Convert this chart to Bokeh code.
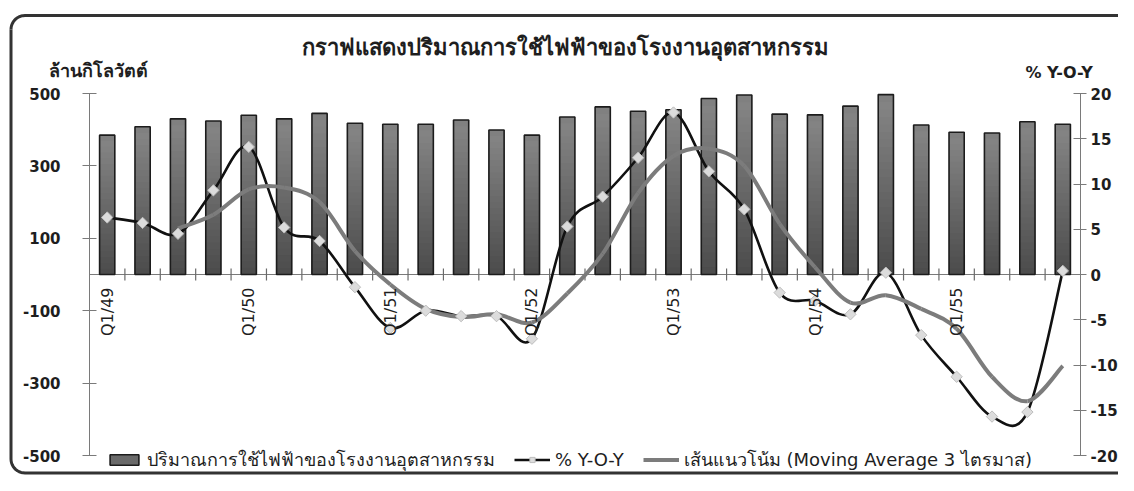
import numpy as np
from bokeh.plotting import figure
from bokeh.models import (Range1d, LinearAxis, FixedTicker, Label, Legend, LegendItem,
                          ColumnDataSource)
from bokeh.core.properties import value
from bokeh.embed import file_html
from bokeh.resources import INLINE

# ---------------- data ----------------
quarters = ["Q1/49", "Q2/49", "Q3/49", "Q4/49",
            "Q1/50", "Q2/50", "Q3/50", "Q4/50",
            "Q1/51", "Q2/51", "Q3/51", "Q4/51",
            "Q1/52", "Q2/52", "Q3/52", "Q4/52",
            "Q1/53", "Q2/53", "Q3/53", "Q4/53",
            "Q1/54", "Q2/54", "Q3/54", "Q4/54",
            "Q1/55", "Q2/55", "Q3/55", "Q4/55"]
power = [385, 408, 430, 424, 440, 430, 445, 418, 415, 415, 427, 399, 385, 435,
         463, 451, 455, 486, 496, 443, 441, 465, 497, 413, 393, 391, 422, 415]
yoy = [6.3, 5.7, 4.5, 9.3, 14.1, 5.2, 3.7, -1.4, -5.9, -4.0, -4.6, -4.6, -7.1, 5.3,
       8.6, 12.9, 17.9, 11.4, 7.2, -2.0, -2.9, -4.4, 0.2, -6.7, -11.3, -15.7, -15.2, 0.4]
ma3 = [None, None, 5.1, 6.6, 9.4, 9.6, 8.0, 2.6, -1.1, -3.8, -4.7, -4.4, -5.3, -2.1,
       2.3, 9.0, 13.1, 13.9, 12.0, 5.6, 0.8, -3.1, -2.3, -3.8, -6.0, -11.3, -14.0, -10.1]
left_ticks = [-500, -300, -100, 100, 300, 500]
right_ticks = [-20, -15, -10, -5, 0, 5, 10, 15, 20]

title_text = "กราฟแสดงปริมาณการใช้ไฟฟ้าของโรงงานอุตสาหกรรม"
left_title = "ล้านกิโลวัตต์"
right_title = "% Y-O-Y"
bar_name = "ปริมาณการใช้ไฟฟ้าของโรงงานอุตสาหกรรม"
yoy_name = "% Y-O-Y"
ma_name = "เส้นแนวโน้ม (Moving Average 3 ไตรมาส)"

FONT = "DejaVu Sans"
n = len(quarters)
xs = np.arange(n)

# ---------------- layout geometry (canvas pixels) ----------------
W, H = 1118, 475
AX_L, AX_R = 89, 1080        # left / right axis lines
Y_TOP, Y_BOT = 93, 455       # +500 / -500 (and +20 / -20)
Y0 = (Y_TOP + Y_BOT) / 2
UX = (AX_R - AX_L) / n
UY = (Y_BOT - Y_TOP) / 1000.0
UP = (Y_BOT - Y_TOP) / 40.0

def dx(px):
    return -0.5 + (px - AX_L) / UX

def dy(py):
    return (Y0 - py) / UY

def dp(py):
    return (Y0 - py) / UP

p = figure(width=W, height=H, output_backend="svg", toolbar_location=None,
           x_range=Range1d(dx(0), dx(W)), y_range=Range1d(dy(H), dy(0)),
           x_axis_location=None, y_axis_location=None,
           min_border_left=0, min_border_right=0, min_border_top=0, min_border_bottom=0,
           background_fill_color="white", border_fill_color="white")
p.outline_line_color = None
p.xgrid.visible = False
p.ygrid.visible = False
p.extra_y_ranges = {"pct": Range1d(dp(H), dp(0))}

def style_axis(ax, ticks):
    ax.axis_line_color = "#7a7a7a"
    ax.major_tick_line_color = "#7a7a7a"
    ax.major_tick_in = 7
    ax.major_tick_out = 7
    ax.minor_tick_line_color = None
    ax.major_label_text_font = FONT
    ax.major_label_text_font_size = "15px"
    ax.major_label_text_font_style = "bold"
    ax.major_label_text_color = "#1e1e1e"
    ax.major_label_overrides = {t: str(t) for t in ticks}

ly = LinearAxis(ticker=FixedTicker(ticks=left_ticks), fixed_location=-0.5, bounds=(-500, 500))
style_axis(ly, left_ticks)
ly.major_label_text_color = None   # labels drawn below with a wider gap, as in the original
p.add_layout(ly, "left")
p.text(x=[-0.5] * len(left_ticks), y=left_ticks, text=[str(t) for t in left_ticks],
       x_offset=-29, text_align="right", text_baseline="middle",
       text_font=value(FONT), text_font_size="15px", text_font_style="bold",
       text_color="#1e1e1e")

ry = LinearAxis(y_range_name="pct", ticker=FixedTicker(ticks=right_ticks),
                fixed_location=n - 0.5, bounds=(-20, 20))
style_axis(ry, right_ticks)
ry.major_tick_out = 6
ry.major_label_standoff = 4
p.add_layout(ry, "right")

# border (rounded on the left, running off the right edge)
r = 14
bl, bt, bb = 10.5, 15, 472.5
ang = np.linspace(0, np.pi / 2, 12)
top_x = [W + 20, bl + r] + list(bl + r - r * np.sin(ang))
top_y = [bt, bt] + list(bt + r - r * np.cos(ang))
bot_x = list(bl + r - r * np.cos(ang)) + [W + 20]
bot_y = list(bb - r + r * np.sin(ang)) + [bb]
for bxp, byp in ((top_x, top_y), ([bl, bl], [bt + r, bb - r]), (bot_x, bot_y)):
    p.line(x=[dx(v) for v in bxp], y=[dy(v) for v in byp], line_color="#333333",
           line_width=3, line_join="round")

# zero line + boundary ticks
p.segment(x0=[-0.5], y0=[0], x1=[n - 0.5], y1=[0], line_color="#7a7a7a", line_width=1)
tbx = xs[:-1] + 0.5
p.segment(x0=tbx, y0=np.full(len(tbx), dy(Y0 + 6)), x1=tbx, y1=np.full(len(tbx), dy(Y0 - 6)),
          line_color="#6a6a6a", line_width=1.2)

# bars with a simulated vertical gradient (light at top, dark at bottom)
bw = 0.43
steps = 24
c_top = np.array([0x86, 0x86, 0x86])
c_bot = np.array([0x4a, 0x4a, 0x4a])
pw = np.array(power, dtype=float)
p.vbar(x=xs, top=pw, width=bw, fill_color="#808080", line_color=None)
for k in range(1, steps):
    f = 1 - k / steps
    c = c_top + (c_bot - c_top) * (k / steps)
    col = "#%02x%02x%02x" % tuple(int(v) for v in c)
    p.vbar(x=xs, top=pw * f, width=bw, fill_color=col, line_color=None)
p.vbar(x=xs, top=pw, width=bw, fill_color=None, line_color="#1c1c1c", line_width=1.6)

# smooth curve helper (Catmull-Rom -> cubic Bezier)
def smooth(px, py):
    px = np.asarray(px, float); py = np.asarray(py, float)
    m = len(px)
    x0, y0, x1, y1, cx0, cy0, cx1, cy1 = ([] for _ in range(8))
    for i in range(m - 1):
        a = max(i - 1, 0); d = min(i + 2, m - 1)
        x0.append(px[i]); y0.append(py[i]); x1.append(px[i + 1]); y1.append(py[i + 1])
        cx0.append(px[i] + (px[i + 1] - px[a]) / 6); cy0.append(py[i] + (py[i + 1] - py[a]) / 6)
        cx1.append(px[i + 1] - (px[d] - px[i]) / 6); cy1.append(py[i + 1] - (py[d] - py[i]) / 6)
    return dict(x0=x0, y0=y0, x1=x1, y1=y1, cx0=cx0, cy0=cy0, cx1=cx1, cy1=cy1)

yoy_src = ColumnDataSource(smooth(xs, yoy))
p.bezier(x0="x0", y0="y0", x1="x1", y1="y1", cx0="cx0", cy0="cy0", cx1="cx1", cy1="cy1",
         source=yoy_src, y_range_name="pct", line_color="#111111", line_width=2.6)

ma_idx = [i for i, v in enumerate(ma3) if v is not None]
ma_vals = [ma3[i] for i in ma_idx]
ma_src = ColumnDataSource(smooth(ma_idx, ma_vals))
p.bezier(x0="x0", y0="y0", x1="x1", y1="y1", cx0="cx0", cy0="cy0", cx1="cx1", cy1="cy1",
         source=ma_src, y_range_name="pct", line_color="#7c7c7c", line_width=4)

p.scatter(x=xs, y=yoy, y_range_name="pct", marker="square", angle=np.pi / 4, size=8,
          fill_color="#dcdcdc", line_color="#bdbdbd", line_width=1)

# x category labels (every Q1)
q1_idx = [i for i, q in enumerate(quarters) if q.startswith("Q1")]
p.text(x=[xs[i] for i in q1_idx], y=[0] * len(q1_idx), text=[quarters[i] for i in q1_idx],
       angle=np.pi / 2, text_align="right", text_baseline="middle", y_offset=13,
       text_font=value(FONT), text_font_size="16px", text_color="#1e1e1e")

# titles
p.add_layout(Label(x=dx(565), y=dy(47), text=title_text, text_align="center",
                   text_baseline="middle", text_font=FONT, text_font_size="22px",
                   text_font_style="bold", text_color="#1e1e1e"))
p.add_layout(Label(x=dx(48), y=dy(70), text=left_title, text_align="left",
                   text_baseline="middle", text_font=FONT, text_font_size="18px",
                   text_font_style="bold", text_color="#1e1e1e"))
p.add_layout(Label(x=dx(1025), y=dy(72), text=right_title, text_align="left",
                   text_baseline="middle", text_font=FONT, text_font_size="16px",
                   text_font_style="bold", text_color="#1e1e1e"))

# legend proxies (single NaN point, so nothing is drawn in the plot area)
nan = [float("nan")]
lg_bar = p.vbar(x=nan, top=nan, width=bw, fill_color="#6a6a6a", line_color="#1c1c1c",
                line_width=1.6)
lg_yoy_line = p.line(x=nan, y=nan, line_color="#111111", line_width=2.6)
lg_yoy_mk = p.scatter(x=nan, y=nan, marker="square", angle=np.pi / 4, size=8,
                      fill_color="#dcdcdc", line_color="#bdbdbd")
lg_ma = p.line(x=nan, y=nan, line_color="#7c7c7c", line_width=4)

legend = Legend(items=[LegendItem(label=bar_name, renderers=[lg_bar]),
                       LegendItem(label=yoy_name, renderers=[lg_yoy_line, lg_yoy_mk]),
                       LegendItem(label=ma_name, renderers=[lg_ma])],
                orientation="horizontal", location=(106, H - 474),
                glyph_width=36, glyph_height=13, label_standoff=5, spacing=19,
                padding=0, margin=0, border_line_color=None, background_fill_alpha=0,
                label_text_font=FONT, label_text_font_size="18px", label_text_color="#1e1e1e")
p.add_layout(legend, "center")

open("out.html", "w").write(file_html(p, INLINE))
